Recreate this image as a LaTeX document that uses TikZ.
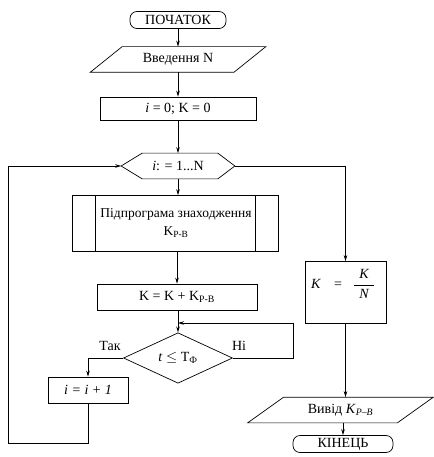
\documentclass[tikz,border=0pt]{standalone}
\usepackage{amsmath}
\usepackage{fontspec}
\setmainfont{Liberation Serif}
\usetikzlibrary{arrows.meta,shapes.geometric}
\begin{document}
\begin{tikzpicture}[x=1pt,y=-1pt,
  line width=0.7pt,
  every node/.style={font=\fontsize{14}{15}\selectfont, inner sep=0pt},
  arr/.style={-{Stealth[length=6pt,width=3.5pt]}},
  boxnode/.style={draw, rectangle},
  ghost/.style={rectangle}
]
\useasboundingbox (0,0) rectangle (433,457);
% start
\node[draw, rounded corners=7pt, minimum width=96, minimum height=17] (start) at (178,20) {ПОЧАТОК};
% input
\node[ghost, minimum width=143, minimum height=25] (inp) at (178,59.5) {Введення N};
\draw ([xshift=-16]inp.south west) -- ([xshift=16]inp.north west) -- ([xshift=16]inp.north east) -- ([xshift=-16]inp.south east) -- cycle;
% init
\node[boxnode, minimum width=156, minimum height=23] (init) at (178,108.5) {\textit{i} = 0; K = 0};
% hexagon loop
\node[ghost, minimum width=113, minimum height=25] (hex) at (178,166) {\textit{i}: = 1...N};
\draw (hex.west) -- ([xshift=21]hex.north west) -- ([xshift=-17]hex.north east) -- (hex.east) -- ([xshift=-17]hex.south east) -- ([xshift=21]hex.south west) -- cycle;
% subprogram
\node[boxnode, minimum width=206, minimum height=56] (sub) at (175,223.5) {};
\node[align=center, font=\fontsize{13.5}{15}\selectfont] (subt) at (176,223) {Підпрограма знаходження\\[3pt] K\textsubscript{Р-В}};
\draw ([xshift=24]sub.north west) -- ([xshift=24]sub.south west);
\draw ([xshift=-23]sub.north east) -- ([xshift=-23]sub.south east);
% sum
\node[boxnode, minimum width=160, minimum height=26] (sum) at (177,297) {K = K + K\textsubscript{Р-В}};
% decision
\node[draw, diamond, minimum width=109, minimum height=38] (dia) at (178,358) {\textit{t} $\leq$ T\textsubscript{Ф}};
\node (yes) at (110,346) {Так};
\node (no) at (239,346) {Ні};
% increment
\node[boxnode, minimum width=80, minimum height=26] (inc) at (88,390) {\textit{i = i + 1}};
% K/N
\node[boxnode, minimum width=81, minimum height=62] (kn) at (345.5,292.5) {};
\node (knf) at (343,284) {\textit{K}\hspace{13pt}=\hspace{11pt}$\genfrac{}{}{0.5pt}{0}{\hspace{5pt}\textit{K}\hspace{5pt}}{\textit{N}}$};
% output
\node[ghost, minimum width=149, minimum height=25] (outp) at (340.5,410) {Вивід \textit{K}\textsubscript{\textit{Р–В}}};
\draw ([xshift=-18]outp.south west) -- ([xshift=18]outp.north west) -- ([xshift=18]outp.north east) -- ([xshift=-18]outp.south east) -- cycle;
% end
\node[draw, rounded corners=7pt, minimum width=100, minimum height=17] (stop) at (343,444) {КІНЕЦЬ};
% coordinates
\coordinate (noC) at (293,323);
\coordinate (loopC) at (8,443);
% connectors
\draw[arr] (start) -- (inp);
\draw[arr] (inp.south) -- (init);
\draw[arr] (init) -- (hex);
\draw[arr] (hex.south) -- (hex.south |- sub.north);
\draw[arr] (sub.south -| sum.north) -- (sum.north);
\draw[arr] (sum.south -| dia.north) -- (dia.north);
\draw[arr] (dia.east) -| (noC) -- (dia.north |- noC);
\draw[arr] (dia.west) -| (inc.north);
\draw[arr] (inc.south) |- (loopC) |- (hex.west);
\draw[arr] (hex.east) -| (kn.north);
\draw[arr] (kn.south) -- (kn.south |- outp.north);
\draw[arr] (outp.south -| stop.north) -- (stop.north);
\end{tikzpicture}
\end{document}
